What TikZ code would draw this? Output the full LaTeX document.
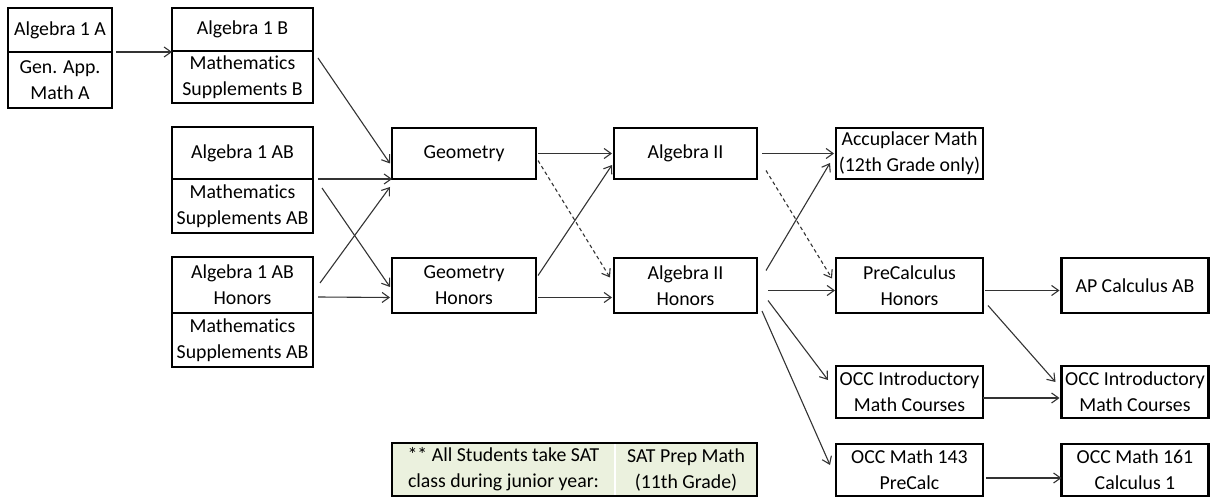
\documentclass[tikz,border=0pt]{standalone}
\usepackage{fontspec}
\setmainfont{Carlito}[Ligatures=NoCommon]
\usepackage{tikz}
\usetikzlibrary{arrows.meta, calc, positioning}
\definecolor{satgreen}{HTML}{EBF1DE}
\definecolor{linegray}{HTML}{333333}
\newcommand{\coursefont}{\fontsize{9.9pt}{13pt}\selectfont}

\begin{document}
\begin{tikzpicture}[x=0.5pt, y=-0.5pt]
\tikzstyle{cell} = [rectangle, draw=black, line width=1.1pt, align=center, inner sep=0pt, outer sep=0pt, font=\coursefont]
\tikzstyle{arrow} = [line width=0.55pt, draw=linegray, -{Straight Barb[length=3.5pt, width=5pt]}]
\tikzstyle{maybe} = [arrow, dash pattern=on 1.8pt off 1.5pt]

\useasboundingbox (0,0) rectangle (1210,497);

% Stacked Course Boxes
\node (alga) [cell, minimum width=52pt, minimum height=22pt] at (60,30) {Algebra 1 A};
\node (gen) [cell, minimum width=52pt, minimum height=28pt, below=0pt of alga] {Gen. App.\\Math A};
\node (algb) [cell, minimum width=70.5pt, minimum height=21.5pt] at (242.5,29.5) {Algebra 1 B};
\node (suppb) [cell, minimum width=70.5pt, minimum height=26pt, below=0pt of algb] {Mathematics\\Supplements B};
\node (algab) [cell, minimum width=70.5pt, minimum height=26pt] at (242.5,153) {Algebra 1 AB};
\node (suppab) [cell, minimum width=70.5pt, minimum height=27pt, below=0pt of algab] {Mathematics\\Supplements AB};
\node (algabh) [cell, minimum width=70.5pt, minimum height=28pt] at (242.5,285) {Algebra 1 AB\\Honors};
\node (suppabh) [cell, minimum width=70.5pt, minimum height=27pt, below=0pt of algabh] {Mathematics\\Supplements AB};

% Middle Course Nodes
\node (geo) [cell, minimum width=72pt, minimum height=25.5pt] at (464,153.5) {Geometry};
\node (geoh) [cell, minimum width=72pt, minimum height=27.5pt] at (464,285.5) {Geometry\\Honors};
\node (alg2) [cell, minimum width=71.5pt, minimum height=25.5pt] at (685.5,153.5) {Algebra II};
\node (alg2h) [cell, minimum width=71.5pt, minimum height=27.5pt] at (685.5,285.5) {Algebra II\\Honors};

% Senior Year Nodes
\node (accu) [cell, minimum width=73.5pt, minimum height=25.5pt] at (909.5,153.5) {Accuplacer Math\\(12th Grade only)};
\node (pch) [cell, minimum width=73.5pt, minimum height=27.5pt] at (909.5,285.5) {PreCalculus\\Honors};
\node (occa) [cell, minimum width=73.5pt, minimum height=26pt] at (909.5,392) {OCC Introductory\\Math Courses};
\node (occ143) [cell, minimum width=73.5pt, minimum height=26pt] at (909.5,470) {OCC Math 143\\PreCalc};
\node (apcalc) [cell, minimum width=73.5pt, minimum height=27.5pt] at (1135,285.5) {AP Calculus AB};
\node (occb) [cell, minimum width=73.5pt, minimum height=26pt] at (1135,392) {OCC Introductory\\Math Courses};
\node (occ161) [cell, minimum width=73.5pt, minimum height=26pt] at (1135,470) {OCC Math 161\\Calculus 1};

% SAT Note
\node (satl) [cell, draw=none, fill=satgreen, minimum width=111.5pt, minimum height=26.5pt] at (503.5,469.5) {** All Students take SAT\\class during junior year:};
\node (satr) [cell, draw=none, fill=satgreen, minimum width=71pt, minimum height=26.5pt, right=0pt of satl] {SAT Prep Math\\(11th Grade)};
\draw[white, line width=0.6pt] (satl.north east) -- (satl.south east);
\draw[line width=1.1pt] (satl.north west) rectangle (satr.south east);

% Freshman Arrows
\draw [arrow, shorten <=2pt] (gen.north east) -- (gen.north east -| suppb.west);
\draw [arrow] ($(suppb.north east)+(5,7)$) -- ($(geo.west)+(-2,10)$);
\draw [arrow, shorten <=2.5pt] (suppab.north east) -- (suppab.north east -| geo.west);
\draw [arrow] ($(suppab.north east)+(9,9)$) -- ($(geoh.west)+(-2,1.5)$);
\draw [arrow] ($(algabh.east)+(7,-2)$) -- ($(geo.south west)+(-2,8)$);
\draw [arrow] ($(algabh.east)+(5,12)$) -- ($(geoh.west)+(-2,12)$);

% Sophomore Arrows
\draw [arrow, shorten <=1pt, shorten >=1pt] (geo.east) -- (alg2.west);
\draw [maybe] ($(geo.east)+(2,7)$) -- ($(alg2h.west)+(-4,-8)$);
\draw [arrow] ($(geoh.east)+(2,-10)$) -- ($(alg2.south west)+(-2,-14)$);
\draw [arrow] ($(geoh.east)+(2,12)$) -- ($(alg2h.west)+(-2,12)$);

% Junior Arrows
\draw [arrow, shorten <=2.5pt, shorten >=1pt] (alg2.east) -- (accu.west);
\draw [maybe] ($(alg2.east)+(9,17)$) -- ($(pch.west)+(-4,-7)$);
\draw [arrow] ($(alg2h.east)+(9,-15)$) -- ($(accu.south west)+(-6,-16)$);
\draw [arrow] ($(alg2h.east)+(11,5)$) -- ($(pch.west)+(-1,5)$);
\draw [arrow] ($(alg2h.east)+(11,15)$) -- ($(occa.west)+(-8,-12)$);
\draw [arrow] ($(alg2h.south east)+(5,-2)$) -- ($(occ143.west)+(-6,-5)$);

% Senior Arrows
\draw [arrow] ($(pch.east)+(2,5)$) -- ($(apcalc.west)+(-2,5)$);
\draw [arrow] ($(pch.east)+(5,20)$) -- ($(occb.west)+(-6,-10)$);
\draw [arrow] ($(occa.east)+(0,6)$) -- ($(occb.west)+(-2,6)$);
\draw [arrow] ($(occ143.east)+(3,8)$) -- ($(occ161.west)+(0,8)$);

\end{tikzpicture}
\end{document}
